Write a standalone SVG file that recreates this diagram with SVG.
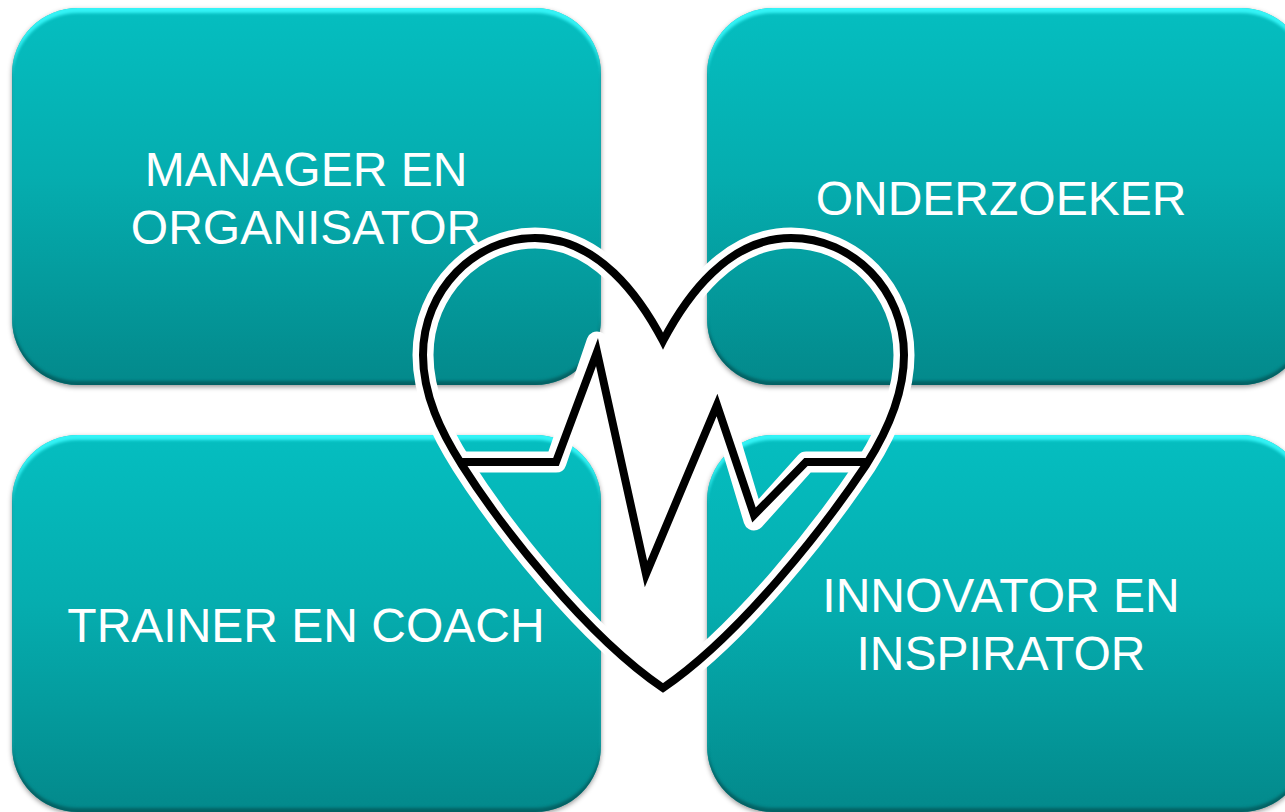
<svg xmlns="http://www.w3.org/2000/svg" width="1285" height="812" viewBox="0 0 1285 812">
<style>
.box{fill:url(#g);filter:url(#bevel)}
.t{font-family:"Liberation Sans",Arial,sans-serif;font-size:48px;fill:#fff;text-anchor:middle}
.halo,.ink{fill:none;stroke-linejoin:round}
.halo{stroke:#fff;stroke-width:21}
.ink{stroke:#000;stroke-width:8}
.sharp{stroke-linejoin:miter;stroke-miterlimit:8}
</style>
<defs>
<linearGradient id="g" x1="0" y1="0" x2="0" y2="1"><stop offset="0" stop-color="#05bec0"/><stop offset=".45" stop-color="#05adaf"/><stop offset="1" stop-color="#03898b"/></linearGradient>
<filter id="bevel" x="-3%" y="-3%" width="106%" height="106%" color-interpolation-filters="sRGB">
<feGaussianBlur in="SourceAlpha" stdDeviation="2.5" result="b"/>
<feOffset in="b" dy="2" result="sh"/>
<feFlood flood-color="#000" flood-opacity=".4"/><feComposite in2="sh" operator="in" result="shadow"/>
<feOffset in="SourceAlpha" dy="5" result="o1"/><feGaussianBlur in="o1" stdDeviation="1.6" result="o1b"/>
<feComposite in="SourceAlpha" in2="o1b" operator="out" result="topmask"/>
<feFlood flood-color="#3dfdff" flood-opacity=".85"/><feComposite in2="topmask" operator="in" result="top"/>
<feOffset in="SourceAlpha" dy="-4" result="o2"/><feGaussianBlur in="o2" stdDeviation="1.6" result="o2b"/>
<feComposite in="SourceAlpha" in2="o2b" operator="out" result="botmask"/>
<feFlood flood-color="#02585a" flood-opacity=".8"/><feComposite in2="botmask" operator="in" result="bot"/>
<feMerge><feMergeNode in="shadow"/><feMergeNode in="SourceGraphic"/><feMergeNode in="top"/><feMergeNode in="bot"/></feMerge>
</filter>
<path id="outline" d="M663,341 C640,297 598,238 535,238 C475,238 423,290 423,355 C423,395 441,432 462,465 C500,525 585,635 663,688 C741,635 826,525 866,465 C887,432 904,395 904,355 C904,290 853,238 791,238 C728,238 686,297 663,341 Z"/>
<path id="pulse-halo" d="M462,462 L556,462 L597,342 L646,583 L717,397 L754,520 L806,462 L866,462"/>
<path id="pulse" d="M462,462 L556,462 L597,352 L646,574 L717,405 L754,515 L806,462 L866,462"/>
</defs>
<g id="connectors"/>
<g id="node-manager"><rect class="box" x="12" y="8" width="589" height="377" rx="66"/><text class="t" x="306" y="186">MANAGER EN</text><text class="t" x="306" y="244">ORGANISATOR</text></g>
<g id="node-onderzoeker"><rect class="box" x="707" y="8" width="600" height="377" rx="66"/><text class="t" x="1001" y="215">ONDERZOEKER</text></g>
<g id="node-trainer"><rect class="box" x="12" y="435" width="589" height="377" rx="66"/><text class="t" x="306" y="642">TRAINER EN COACH</text></g>
<g id="node-innovator"><rect class="box" x="707" y="435" width="600" height="377" rx="66"/><text class="t" x="1001" y="612">INNOVATOR EN</text><text class="t" x="1001" y="670">INSPIRATOR</text></g>
<g id="node-heart">
<use href="#outline" class="halo sharp"/><use href="#pulse-halo" class="halo"/>
<use href="#outline" class="ink sharp"/><use href="#pulse" class="ink sharp"/>
</g>
</svg>
